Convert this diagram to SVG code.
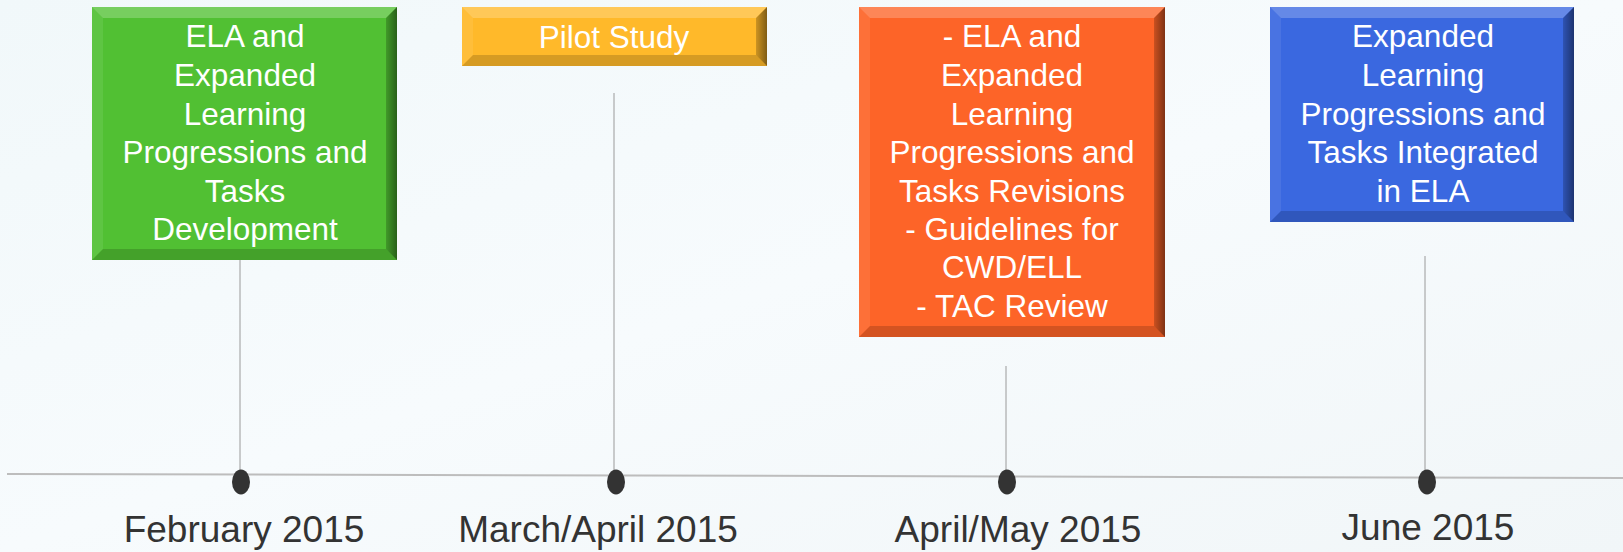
<svg xmlns="http://www.w3.org/2000/svg" width="1623" height="552" viewBox="0 0 1623 552">
  <defs>
    <linearGradient id="bg" x1="0" y1="0" x2="1" y2="1">
      <stop offset="0" stop-color="#f1f8fa"/>
      <stop offset="0.5" stop-color="#f7fbfd"/>
      <stop offset="1" stop-color="#f1f6f8"/>
    </linearGradient>
    <linearGradient id="shadeR" x1="0" y1="0" x2="1" y2="0">
      <stop offset="0" stop-color="#000" stop-opacity="0.2"/>
      <stop offset="1" stop-color="#000" stop-opacity="0.5"/>
    </linearGradient>
  </defs>
  <style>
    .box-text { font-family: "Liberation Sans", Arial, sans-serif; font-size: 31.5px; fill: #ffffff; text-anchor: middle; }
    .date { font-family: "Liberation Sans", Arial, sans-serif; font-size: 37px; fill: #333333; text-anchor: middle; }
    .hi { fill: #ffffff; fill-opacity: 0.22; }
    .hi2 { fill: #ffffff; fill-opacity: 0.08; }
    .lo { fill: #000000; fill-opacity: 0.16; }
    .lo2 { fill: url(#shadeR); }
    .stem { stroke: #9a9a9a; stroke-width: 1; }
    .axis { stroke: #bdbdbd; stroke-width: 2; }
    .dot { fill: #333333; }
  </style>

  <rect width="1623" height="552" fill="url(#bg)"/>

  <!-- timeline axis and stems -->
  <g id="connectors">
    <line class="axis" x1="7" y1="474" x2="1623" y2="478"/>
    <line class="stem" x1="240" y1="260" x2="240" y2="478"/>
    <line class="stem" x1="614" y1="93" x2="614" y2="478"/>
    <line class="stem" x1="1006" y1="366" x2="1006" y2="478"/>
    <line class="stem" x1="1425" y1="256" x2="1425" y2="478"/>
    <ellipse class="dot" cx="241" cy="482" rx="9" ry="12.5"/>
    <ellipse class="dot" cx="616" cy="482" rx="9" ry="12.5"/>
    <ellipse class="dot" cx="1007" cy="482" rx="9" ry="12.5"/>
    <ellipse class="dot" cx="1427" cy="482" rx="9" ry="12.5"/>
  </g>

  <!-- February 2015 -->
  <g id="feb">
    <rect x="92" y="7" width="305" height="253" fill="#51c033"/>
    <polygon class="hi" points="92,7 397,7 386,18 103,18"/>
    <polygon class="hi2" points="92,7 103,18 103,249 92,260"/>
    <polygon class="lo" points="92,260 103,249 386,249 397,260"/>
    <polygon class="lo2" points="397,7 397,260 386,249 386,18"/>
    <text class="box-text" x="245" y="47">ELA and</text>
    <text class="box-text" x="245" y="86">Expanded</text>
    <text class="box-text" x="245" y="125">Learning</text>
    <text class="box-text" x="245" y="163">Progressions and</text>
    <text class="box-text" x="245" y="202">Tasks</text>
    <text class="box-text" x="245" y="240">Development</text>
    <text class="date" x="244" y="542">February 2015</text>
  </g>

  <!-- March/April 2015 -->
  <g id="marapr">
    <rect x="462" y="7" width="305" height="59" fill="#ffb92a"/>
    <polygon class="hi" points="462,7 767,7 756,18 473,18"/>
    <polygon class="hi2" points="462,7 473,18 473,55 462,66"/>
    <polygon class="lo" points="462,66 473,55 756,55 767,66"/>
    <polygon class="lo2" points="767,7 767,66 756,55 756,18"/>
    <text class="box-text" x="614" y="48">Pilot Study</text>
    <text class="date" x="598" y="542">March/April 2015</text>
  </g>

  <!-- April/May 2015 -->
  <g id="aprmay">
    <rect x="859" y="7" width="306" height="330" fill="#fd6428"/>
    <polygon class="hi" points="859,7 1165,7 1154,18 870,18"/>
    <polygon class="hi2" points="859,7 870,18 870,326 859,337"/>
    <polygon class="lo" points="859,337 870,326 1154,326 1165,337"/>
    <polygon class="lo2" points="1165,7 1165,337 1154,326 1154,18"/>
    <text class="box-text" x="1012" y="47">- ELA and</text>
    <text class="box-text" x="1012" y="86">Expanded</text>
    <text class="box-text" x="1012" y="125">Learning</text>
    <text class="box-text" x="1012" y="163">Progressions and</text>
    <text class="box-text" x="1012" y="202">Tasks Revisions</text>
    <text class="box-text" x="1012" y="240">- Guidelines for</text>
    <text class="box-text" x="1012" y="278">CWD/ELL</text>
    <text class="box-text" x="1012" y="317">- TAC Review</text>
    <text class="date" x="1018" y="542">April/May 2015</text>
  </g>

  <!-- June 2015 -->
  <g id="jun">
    <rect x="1270" y="7" width="304" height="215" fill="#3a68e0"/>
    <polygon class="hi" points="1270,7 1574,7 1563,18 1281,18"/>
    <polygon class="hi2" points="1270,7 1281,18 1281,211 1270,222"/>
    <polygon class="lo" points="1270,222 1281,211 1563,211 1574,222"/>
    <polygon class="lo2" points="1574,7 1574,222 1563,211 1563,18"/>
    <text class="box-text" x="1423" y="47">Expanded</text>
    <text class="box-text" x="1423" y="86">Learning</text>
    <text class="box-text" x="1423" y="125">Progressions and</text>
    <text class="box-text" x="1423" y="163">Tasks Integrated</text>
    <text class="box-text" x="1423" y="202">in ELA</text>
    <text class="date" x="1428" y="540">June 2015</text>
  </g>
</svg>
